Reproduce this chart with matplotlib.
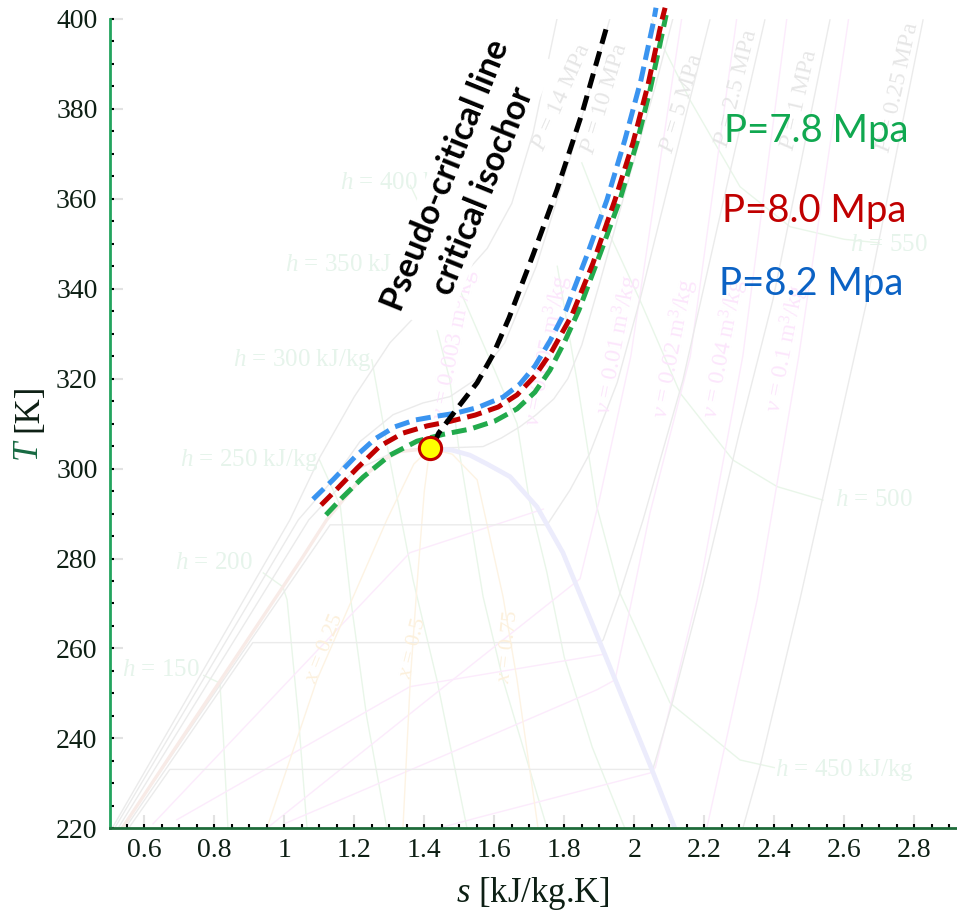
import matplotlib
matplotlib.use("Agg")
import matplotlib.pyplot as plt
from matplotlib.ticker import MultipleLocator, FuncFormatter

plt.rcParams.update({
    'mathtext.fontset': 'custom',
    'mathtext.rm': 'Liberation Serif',
    'mathtext.it': 'Liberation Serif:italic',
    'mathtext.bf': 'Liberation Serif:bold',
    'font.family': 'Liberation Serif',
})

W, H = 957, 916

# ---- highlighted isobars (s in kJ/kg.K, T in K) ----
s_p78 = [1.119, 1.165, 1.225, 1.302, 1.379, 1.453, 1.531, 1.602, 1.665, 1.716,
         1.759, 1.802, 1.842, 1.902, 1.959, 2.008, 2.045, 2.079, 2.091]
T_p78 = [289.7, 293.5, 298.1, 303.0, 306.1, 307.6, 308.8, 310.6, 313.3, 317.0,
         321.9, 328.4, 335.3, 347.7, 359.8, 372.7, 384.2, 396.5, 400.9]

s_p80 = [1.105, 1.151, 1.208, 1.273, 1.339, 1.408, 1.473, 1.545, 1.611, 1.665,
         1.716, 1.765, 1.822, 1.882, 1.945, 1.996, 2.039, 2.079, 2.088]
T_p80 = [291.9, 295.5, 300.1, 305.0, 307.9, 309.5, 310.5, 311.9, 313.7, 316.4,
         320.6, 326.2, 334.2, 345.7, 359.8, 372.4, 385.3, 399.8, 402.5]

s_p82 = [1.082, 1.139, 1.202, 1.259, 1.316, 1.373, 1.431, 1.488, 1.553, 1.625,
         1.673, 1.716, 1.759, 1.805, 1.865, 1.922, 1.973, 2.019, 2.056, 2.062]
T_p82 = [293.2, 297.5, 302.6, 306.6, 309.3, 310.8, 311.6, 312.3, 313.6, 315.9,
         318.8, 322.8, 328.4, 335.3, 347.5, 359.8, 373.1, 386.4, 399.8, 402.5]

# pseudo-critical line / critical isochore
s_pc = [1.428, 1.441, 1.493, 1.551, 1.596, 1.642, 1.711, 1.779, 1.851, 1.922]
T_pc = [305.5, 307.9, 313.3, 319.1, 325.3, 333.5, 347.6, 362.0, 379.1, 398.5]

# critical point
s_crit, T_crit = 1.416, 304.5

legend_labels = ['P=7.8 Mpa', 'P=8.0 Mpa', 'P=8.2 Mpa']

# ---- background CO2 property chart ----
dome_liq_s = [0.539, 0.70, 0.90, 1.05, 1.121, 1.216, 1.282, 1.331, 1.416]
dome_liq_T = [220.3, 239.2, 262.5, 280.0, 288.6, 297.5, 301.9, 303.8, 304.5]
dome_vap_s = [1.416, 1.48, 1.53, 1.58, 1.645, 1.722, 1.796, 1.902, 2.045, 2.116]
dome_vap_T = [304.5, 304.1, 303.0, 301.0, 298.2, 291.5, 281.3, 261.3, 234.1, 220.0]

isobar_s = {
    '14':   [0.508, 1.016, 1.102, 1.20, 1.302, 1.40, 1.50, 1.58, 1.65, 1.711, 1.779],
    '10':   [0.515, 1.04, 1.139, 1.216, 1.311, 1.396, 1.473, 1.55, 1.63, 1.72, 1.82, 1.93],
    'crit': [0.525, 1.07, 1.20, 1.30, 1.36, 1.42, 1.50, 1.568, 1.62, 1.673, 1.72, 1.77,
             1.81, 1.85, 1.90, 1.99, 2.06, 2.11],
    '5':    [0.535, 1.131, 1.751, 1.816, 1.873, 1.951, 2.016, 2.11, 2.216],
    '2.5':  [0.545, 0.91, 1.902, 1.911, 1.959, 2.025, 2.139, 2.25, 2.373],
    '1':    [0.555, 0.673, 2.053, 2.111, 2.196, 2.302, 2.396, 2.559],
    '0.25': [2.31, 2.359, 2.473, 2.665, 2.825],
}
isobar_T = {
    '14':   [220, 288.6, 302.6, 316, 328, 336, 342, 349, 359, 374.7, 400],
    '10':   [220, 288.6, 297.5, 306, 312, 314.6, 316, 320, 328, 345, 370, 400],
    'crit': [220, 288.6, 299.5, 303.2, 304.3, 304.6, 304.7, 304.9, 306.8, 309.3, 312.0,
             315.5, 320.0, 327.5, 341.0, 366.0, 385.0, 400],
    '5':    [220, 287.5, 287.5, 295.2, 303.4, 319.1, 337.5, 367, 399.8],
    '2.5':  [220, 261.3, 261.3, 261.9, 272.3, 288.6, 319.7, 358, 399.8],
    '1':    [220, 233.1, 233.1, 248.6, 274, 308.6, 337.5, 399.8],
    '0.25': [220, 233.7, 270.8, 337.5, 399.8],
}

isenthalp_s = {
    150: [0.77, 0.816, 0.826, 0.839],
    200: [0.94, 0.996, 1.008, 1.04, 1.065],
    250: [1.10, 1.16, 1.19, 1.235, 1.293],
    300: [1.25, 1.30, 1.368, 1.436, 1.522],
    350: [1.39, 1.473, 1.50, 1.568, 1.625, 1.751],
    400: [1.36, 1.50, 1.60, 1.665, 1.70, 1.75, 1.80, 1.88, 1.973],
    450: [1.78, 1.836, 1.893, 1.959, 2.102, 2.302, 2.40],
    500: [1.85, 1.93, 2.016, 2.131, 2.282, 2.408, 2.539],
    550: [2.00, 2.073, 2.159, 2.302, 2.445, 2.60, 2.70],
}
isenthalp_T = {
    150: [254, 252.3, 240, 220],
    200: [276.8, 273.7, 270.8, 245, 220],
    250: [302, 291.7, 270.8, 245, 220],
    300: [324.2, 302.5, 275.2, 253, 220],
    350: [345, 319.7, 303.7, 271.5, 253, 220],
    400: [363, 340, 322, 310, 293, 277, 258, 238, 220],
    450: [345, 319.7, 291.5, 272.3, 247.9, 235.2, 233.5],
    500: [368, 352, 337.5, 316.8, 301.9, 296, 293],
    550: [410, 395.3, 382, 362.7, 353.8, 351, 350.2],
}

isochore_s = [
    [0.95, 1.40, 1.845, 1.90, 1.99, 2.139],
    [1.0, 1.559, 1.893, 1.945, 2.045, 2.16, 2.296],
    [1.44, 1.559, 2.045, 2.06, 2.19, 2.31, 2.439],
    [2.207, 2.351, 2.47, 2.616],
    [0.625, 1.359, 1.74],
    [0.693, 1.359, 1.92],
]
isochore_T = [
    [220, 248, 275.5, 293, 325, 402],
    [221, 239.6, 250.8, 253, 290.2, 325, 402],
    [220, 222.5, 232.3, 233.5, 275, 325, 402],
    [220, 270.8, 325, 402],
    [221, 281.3, 291.0],
    [221.9, 251.5, 258.8],
]

quality_s = [
    [0.95, 1.093, 1.293, 1.37, 1.416],
    [1.339, 1.36, 1.38, 1.40, 1.416],
    [1.725, 1.665, 1.625, 1.551, 1.48, 1.416],
]
quality_T = [
    [220, 253, 288.6, 301, 304.5],
    [220, 253, 275, 295, 304.5],
    [220, 253, 271.5, 297.5, 303.2, 304.5],
]

p_label_text = ['$P$ = 14 MPa', '$P$ = 10 MPa', '$P$ = 5 MPa', '$P$ = 2.5 MPa',
                '$P$ = 1 MPa', '$P$ = 0.25 MPa']
p_label_s = [1.793, 1.916, 2.136, 2.293, 2.473, 2.753]
p_label_T = [382.6, 382.4, 381.3, 384.7, 382.0, 384.7]
p_label_rot = [66, 73, 73, 76, 77, 77.6]

v_label_text = ['$v$ = 0.01 m$^3$/kg', '$v$ = 0.02 m$^3$/kg', '$v$ = 0.04 m$^3$/kg',
                '$v$ = 0.1 m$^3$/kg', '$v$ = 0.003 m$^3$/kg', '$v$ = 0.005 m$^3$/kg']
v_label_s = [1.953, 2.116, 2.259, 2.436, 1.488, 1.753]
v_label_T = [327.5, 326.8, 326.8, 326.8, 327.5, 326.3]

x_label_text = ['$x$ = 0.25', '$x$ = 0.5', '$x$ = 0.75']
x_label_s = [1.116, 1.368, 1.639]
x_label_T = [260.0, 260.0, 260.4]
x_label_rot = [68, 76, 84]

h_label_text = ['$h$ = 150', '$h$ = 200', '$h$ = 250 kJ/kg', '$h$ = 300 kJ/kg',
                '$h$ = 350 kJ/kg', '$h$ = 400 kJ/kg', '$h$ = 450 kJ/kg', '$h$ = 500',
                '$h$ = 550']
h_label_s = [0.536, 0.688, 0.702, 0.853, 1.002, 1.159, 2.402, 2.573, 2.616]
h_label_T = [255.2, 279.0, 301.9, 324.2, 345.3, 363.6, 233.0, 293.0, 349.7]

# ---- figure ----
fig = plt.figure(figsize=(W / 100, H / 100), dpi=100)
ax = fig.add_axes([110 / W, 1 - 828.3 / H, 847 / W, (828.3 - 19) / H])
ax.set_xlim(0.502, 2.922)
ax.set_ylim(220, 400)

# background chart (very faint)
ax.plot(dome_liq_s, dome_liq_T, color='#f8ebe7', lw=2.4, zorder=1.2)
ax.plot(dome_vap_s, dome_vap_T, color='#ececfc', lw=3.4, zorder=1.2)
for key in isobar_s:
    ax.plot(isobar_s[key], isobar_T[key], color='#ebebeb', lw=1.0, zorder=1.1)
for key in isenthalp_s:
    ax.plot(isenthalp_s[key], isenthalp_T[key], color='#e9f6e9', lw=1.0, zorder=1.0)
for ss, tt in zip(isochore_s, isochore_T):
    ax.plot(ss, tt, color='#fcebfc', lw=1.0, zorder=1.0)
for ss, tt in zip(quality_s, quality_T):
    ax.plot(ss, tt, color='#fdf3e3', lw=1.0, zorder=1.0)

for t, s, T, r in zip(p_label_text, p_label_s, p_label_T, p_label_rot):
    ax.text(s, T, t, rotation=r, ha='center', va='center', rotation_mode='anchor',
            fontsize=17, color='#e6e6e6', zorder=1.3)
for t, s, T in zip(v_label_text, v_label_s, v_label_T):
    ax.text(s, T, t, rotation=79, ha='center', va='center', rotation_mode='anchor',
            fontsize=17, color='#fce6fc', zorder=1.3)
for t, s, T, r in zip(x_label_text, x_label_s, x_label_T, x_label_rot):
    ax.text(s, T, t, rotation=r, ha='center', va='center', rotation_mode='anchor',
            fontsize=16, color='#fcf0dc', zorder=1.3)
for t, s, T in zip(h_label_text, h_label_s, h_label_T):
    ax.text(s, T, t, ha='left', va='center', fontsize=18, color='#e6f4eb', zorder=1.3)

# annotation for the black dashed line
ax.text(1.515, 363.5, 'Pseudo-critical line\ncritical isochor', rotation=68,
        rotation_mode='anchor', ha='center', va='center', multialignment='center',
        fontsize=24.5, fontweight='bold', family='Lato', linespacing=1.3,
        color='black', zorder=3,
        bbox=dict(facecolor='white', edgecolor='none', pad=1.5))

# highlighted isobars and pseudo-critical line
ax.plot(s_p78, T_p78, color='#22aa4c', lw=3.6, ls=(0, (3.0, 1.4)),
        dash_capstyle='butt', zorder=4, clip_on=False)
ax.plot(s_p82, T_p82, color='#3a94f0', lw=3.6, ls=(0, (3.0, 1.4)),
        dash_capstyle='butt', zorder=4.2, clip_on=False)
ax.plot(s_p80, T_p80, color='#c00000', lw=3.6, ls=(0, (3.0, 1.4)),
        dash_capstyle='butt', zorder=4.4, clip_on=False)
ax.plot(s_pc, T_pc, color='black', lw=3.6, ls=(0, (3.0, 1.6)),
        dash_capstyle='butt', zorder=4.6)
ax.plot([s_crit], [T_crit], 'o', ms=16, mfc='#ffff00', mec='#c00000', mew=2.2,
        zorder=6)

# pressure labels
leg_colors = ['#10a850', '#c00000', '#0b62c4']
leg_pos = [(816, 141.7), (814.5, 221.7), (811, 295)]
for t, c, (px, py) in zip(legend_labels, leg_colors, leg_pos):
    fig.text(px / W, 1 - py / H, t, ha='center', va='baseline', fontsize=27.5,
             family='Lato', color=c, zorder=7)

# axes styling
for side in ('top', 'right'):
    ax.spines[side].set_visible(False)
ax.spines['left'].set_color('#22a45e')
ax.spines['left'].set_linewidth(2)
ax.spines['bottom'].set_color('#1e6b3a')
ax.spines['bottom'].set_linewidth(2)

ax.xaxis.set_major_locator(MultipleLocator(0.2))
ax.xaxis.set_minor_locator(MultipleLocator(0.05))
ax.yaxis.set_major_locator(MultipleLocator(20))
ax.yaxis.set_minor_locator(MultipleLocator(5))
ax.xaxis.remove_overlapping_locs = False
ax.yaxis.remove_overlapping_locs = False
ax.xaxis.set_major_formatter(FuncFormatter(lambda v, p: f'{v:g}'))
ax.yaxis.set_major_formatter(FuncFormatter(lambda v, p: f'{v:g}'))

ax.tick_params(which='major', direction='in', length=9.5, width=1.5, color='#e2e2e2',
               labelsize=20, labelcolor='#0d1f14')
ax.tick_params(axis='y', which='major', pad=9)
ax.tick_params(axis='x', which='major', pad=7)
ax.tick_params(which='minor', direction='in', length=3, width=1.5, color='black')
for lab in ax.get_xticklabels() + ax.get_yticklabels():
    lab.set_family('Liberation Serif')

# axis titles
fig.text(533 / W, 1 - 893 / H, '$s$ [kJ/kg.K]', ha='center', va='center',
         fontsize=25, color='#0d1f14')
fig.text(29 / W, 1 - 450 / H, '$T$', rotation=90, ha='center', va='center',
         fontsize=25, color='#176a42')
fig.text(29 / W, 1 - 408 / H, '[K]', rotation=90, ha='center', va='center',
         fontsize=25, color='#0d1f14')

fig.savefig('out.png', dpi=100)
